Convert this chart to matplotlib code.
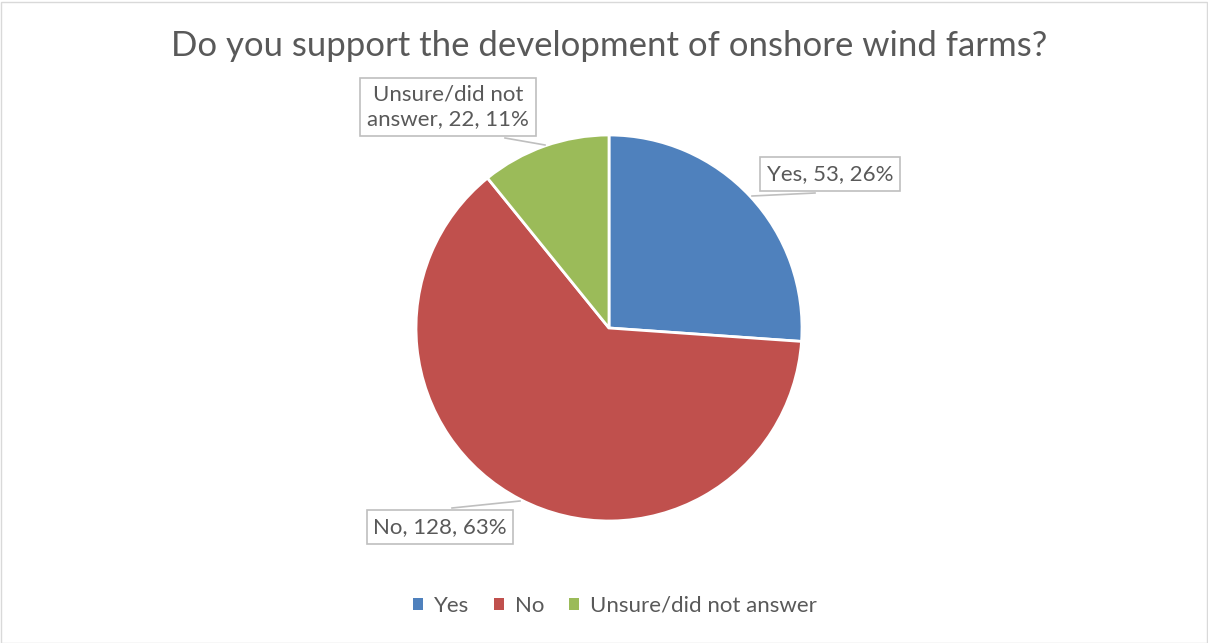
import matplotlib
matplotlib.use("Agg")
import matplotlib.pyplot as plt
from matplotlib.patches import Rectangle

categories = ["Yes", "No", "Unsure/did not answer"]
values = [53, 128, 22]
percent_labels = ["26%", "63%", "11%"]
colors = ["#4F81BD", "#C0504D", "#9BBB59"]
title = "Do you support the development of onshore wind farms?"

W, H = 1208, 643
fig = plt.figure(figsize=(W / 100, H / 100), dpi=100)
plt.rcParams['font.family'] = ['Lato', 'DejaVu Sans']
txt = "#595959"

# figure border
fig.patches.append(Rectangle((0.5 / W, 0.5 / H), 1 - 2 / W, 1 - 2 / H, transform=fig.transFigure,
                             fill=False, edgecolor="#D9D9D9", linewidth=1))

cx, cy, r = 609, 328, 193
ax = fig.add_axes([(cx - r) / W, 1 - (cy + r) / H, 2 * r / W, 2 * r / H])
wedges, _ = ax.pie(values, colors=colors, startangle=90, counterclock=False, radius=1,
                   wedgeprops=dict(edgecolor="white", linewidth=2))
ax.set_xlim(-1, 1)
ax.set_ylim(-1, 1)
ax.set_aspect("equal")
ax.axis("off")

def px(x, y):
    return ((x - cx) / r, (cy - y) / r)

box = dict(boxstyle="square,pad=0.3", facecolor="white", edgecolor="#BFBFBF", linewidth=1.2)
label_pos = [px(830, 174), px(440, 527), px(448, 107)]
line_pts = [(px(752, 196), px(815, 193)), (px(520, 501), px(452, 508)), (px(545, 145), px(505, 138))]
texts = [f"{categories[0]}, {values[0]}, {percent_labels[0]}",
         f"{categories[1]}, {values[1]}, {percent_labels[1]}",
         "Unsure/did not\nanswer, 22, 11%".replace("22", str(values[2])).replace("11%", percent_labels[2])]
for (p0, p1) in line_pts:
    ax.plot([p0[0], p1[0]], [p0[1], p1[1]], color="#BFBFBF", linewidth=1.2, clip_on=False, zorder=3)
for t, pos in zip(texts, label_pos):
    ax.text(pos[0], pos[1], t, ha="center", va="center", fontsize=16, color=txt,
            bbox=box, clip_on=False, zorder=4, linespacing=1.3)

fig.text(609 / W, 1 - 46 / H, title, ha="center", va="center", fontsize=25, color=txt)

handles = [Rectangle((0, 0), 1, 1, facecolor=c) for c in colors]
fig.legend(handles, categories, loc="center", bbox_to_anchor=(615 / W, 1 - 606 / H), ncol=3,
           frameon=False, fontsize=16, labelcolor=txt, handlelength=0.45, handleheight=0.45,
           handletextpad=0.5, columnspacing=1.1)

fig.savefig("out.png", dpi=100)
